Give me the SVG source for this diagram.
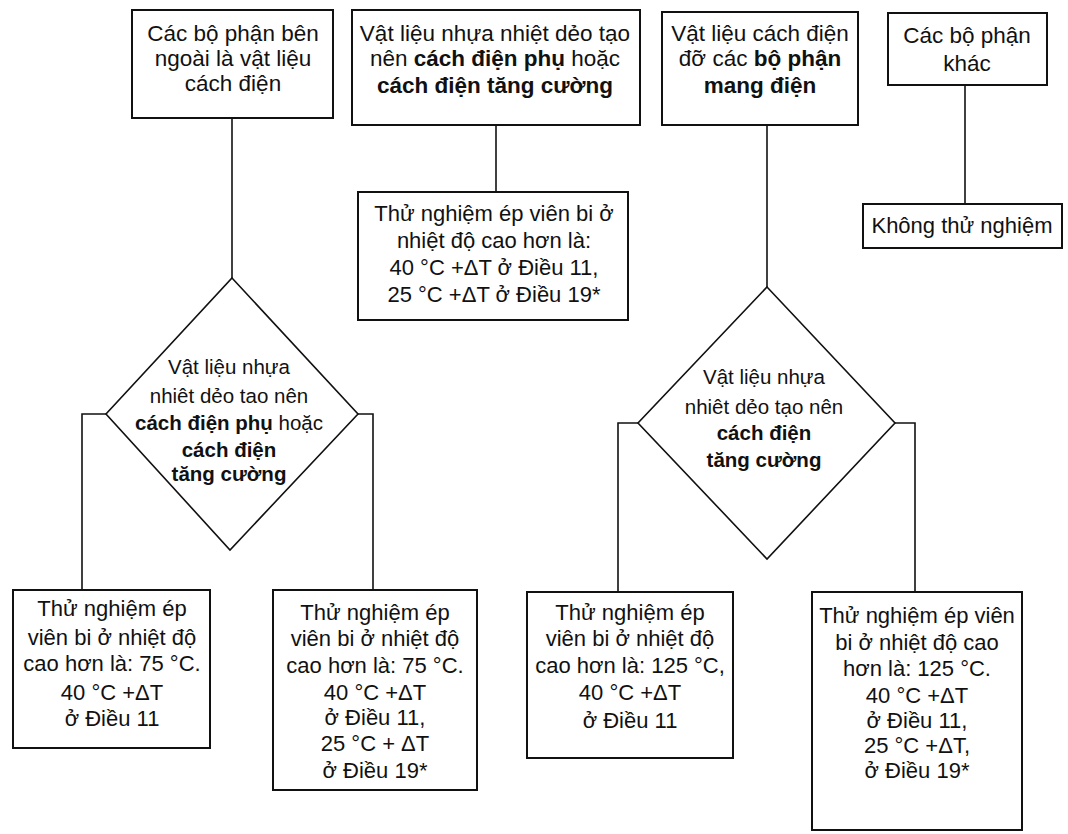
<svg xmlns="http://www.w3.org/2000/svg" width="1068" height="834" viewBox="0 0 1068 834">
<style>
.bx{fill:#fff;stroke:#111;stroke-width:2}
.dm{fill:#fff;stroke:#111;stroke-width:1.6}
.cn{fill:none;stroke:#111;stroke-width:1.6}
text{font-family:"Liberation Sans",Arial,sans-serif;fill:#111;text-anchor:middle}
.t1{font-size:22.5px}
.t2{font-size:20.5px}
.t3{font-size:22px}
.b{font-weight:bold}
</style>
<rect width="1068" height="834" fill="#fff"/>
<g id="connectors">
<path class="cn" d="M232,118 V278"/>
<path class="cn" d="M106,414 H82 V590"/>
<path class="cn" d="M358,414 H373 V590"/>
<path class="cn" d="M496,125 V192"/>
<path class="cn" d="M767,125 V287"/>
<path class="cn" d="M638,423 H618 V592"/>
<path class="cn" d="M895,423 H915 V592"/>
<path class="cn" d="M965,85 V204"/>
</g>
<g id="n1">
<rect class="bx" x="132" y="10" width="201" height="108"/>
<text class="t1" x="233" y="41">Các bộ phận bên</text>
<text class="t1" x="233" y="66">ngoài là vật liệu</text>
<text class="t1" x="233" y="91">cách điện</text>
</g>
<g id="n2">
<rect class="bx" x="352" y="10" width="288" height="115"/>
<text class="t1" x="495" y="41">Vật liệu nhựa nhiệt dẻo tạo</text>
<text class="t1" x="495" y="66">nên <tspan class="b">cách điện phụ</tspan> hoặc</text>
<text class="t1 b" x="495" y="93">cách điện tăng cường</text>
</g>
<g id="n3">
<rect class="bx" x="662" y="12" width="196" height="113"/>
<text class="t1" x="760" y="41">Vật liệu cách điện</text>
<text class="t1" x="760" y="66">đỡ các <tspan class="b">bộ phận</tspan></text>
<text class="t1 b" x="760" y="93">mang điện</text>
</g>
<g id="n4">
<rect class="bx" x="888" y="13" width="159" height="72"/>
<text class="t1" x="967" y="43">Các bộ phận</text>
<text class="t1" x="967" y="71">khác</text>
</g>
<g id="n5">
<rect class="bx" x="863" y="204" width="199" height="44"/>
<text class="t3" x="962" y="233">Không thử nghiệm</text>
</g>
<g id="n6">
<rect class="bx" x="358" y="192" width="270" height="128"/>
<text class="t3" x="494" y="221">Thử nghiệm ép viên bi ở</text>
<text class="t3" x="494" y="248">nhiệt độ cao hơn là:</text>
<text class="t3" x="494" y="275">40 °C +ΔT ở Điều 11,</text>
<text class="t3" x="494" y="302">25 °C +ΔT ở Điều 19*</text>
</g>
<g id="n7">
<polygon class="dm" points="232,278 358,414 230,550 106,414"/>
<text class="t2" x="229" y="374">Vật liệu nhựa</text>
<text class="t2" x="229" y="403">nhiêt dẻo tao nên</text>
<text class="t2" x="229" y="430"><tspan class="b">cách điện phụ</tspan> hoặc</text>
<text class="t2 b" x="229" y="457">cách điện</text>
<text class="t2 b" x="229" y="481">tăng cường</text>
</g>
<g id="n8">
<polygon class="dm" points="767,287 895,423 767,559 638,423"/>
<text class="t2" x="764" y="384">Vật liệu nhựa</text>
<text class="t2" x="764" y="414">nhiêt dẻo tạo nên</text>
<text class="t2 b" x="764" y="440">cách điện</text>
<text class="t2 b" x="764" y="467">tăng cường</text>
</g>
<g id="n9">
<rect class="bx" x="13" y="590" width="197" height="158"/>
<text class="t3" x="112" y="616">Thử nghiệm ép</text>
<text class="t3" x="112" y="645">viên bi ở nhiệt độ</text>
<text class="t3" x="112" y="671">cao hơn là: 75 °C.</text>
<text class="t3" x="112" y="700">40 °C +ΔT</text>
<text class="t3" x="112" y="726">ở Điều 11</text>
</g>
<g id="n10">
<rect class="bx" x="273" y="590" width="204" height="200"/>
<text class="t3" x="375" y="620">Thử nghiệm ép</text>
<text class="t3" x="375" y="646">viên bi ở nhiệt độ</text>
<text class="t3" x="375" y="673">cao hơn là: 75 °C.</text>
<text class="t3" x="375" y="700">40 °C +ΔT</text>
<text class="t3" x="375" y="725">ở Điều 11,</text>
<text class="t3" x="375" y="751">25 °C + ΔT</text>
<text class="t3" x="375" y="778">ở Điều 19*</text>
</g>
<g id="n11">
<rect class="bx" x="527" y="592" width="206" height="166"/>
<text class="t3" x="630" y="620">Thử nghiệm ép</text>
<text class="t3" x="630" y="646">viên bi ở nhiệt độ</text>
<text class="t3" x="630" y="673">cao hơn là: 125 °C,</text>
<text class="t3" x="630" y="700">40 °C +ΔT</text>
<text class="t3" x="630" y="728">ở Điều 11</text>
</g>
<g id="n12">
<rect class="bx" x="812" y="592" width="210" height="238"/>
<text class="t3" x="917" y="623">Thử nghiệm ép viên</text>
<text class="t3" x="917" y="650">bi ở nhiệt độ cao</text>
<text class="t3" x="917" y="676">hơn là: 125 °C.</text>
<text class="t3" x="917" y="703">40 °C +ΔT</text>
<text class="t3" x="917" y="728">ở Điều 11,</text>
<text class="t3" x="917" y="753">25 °C +ΔT,</text>
<text class="t3" x="917" y="778">ở Điều 19*</text>
</g>
</svg>
